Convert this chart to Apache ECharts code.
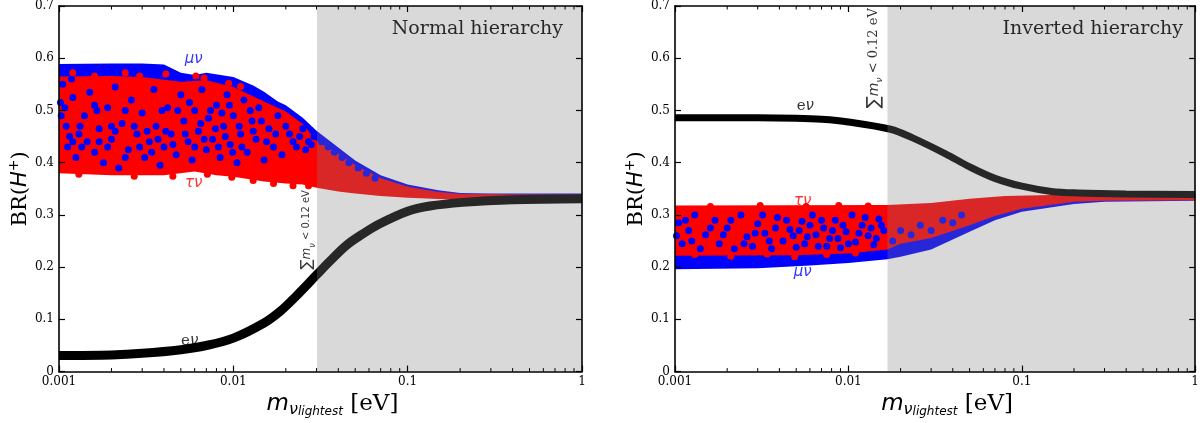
<!DOCTYPE html>
<html><head><meta charset="utf-8">
<script src="https://cdn.jsdelivr.net/npm/echarts/dist/echarts.min.js"></script>
<style>html,body{margin:0;padding:0;background:#fff}#c{width:1202px;height:423px}</style>
</head><body><div id="c"></div>
<script>
// ---------- data ----------
var xTickVals = [0.001, 0.01, 0.1, 1];
var minorTickVals = [0.002,0.003,0.004,0.005,0.006,0.007,0.008,0.009,0.02,0.03,0.04,0.05,0.06,0.07,0.08,0.09,0.2,0.3,0.4,0.5,0.6,0.7,0.8,0.9];
var nhLimit = 0.0302;   // sum m_nu < 0.12 eV boundary, normal hierarchy
var ihLimit = 0.0168;   // inverted hierarchy

// Normal hierarchy: e nu (black band)
var nhE = [[0.001,0.031],[0.002,0.032],[0.003,0.035],[0.005,0.042],[0.007,0.05],[0.01,0.064],[0.015,0.093],[0.0185,0.115],[0.023,0.145],[0.03,0.185],[0.0357,0.211],[0.0446,0.242],[0.0555,0.264],[0.0692,0.283],[0.1,0.307],[0.134,0.317],[0.207,0.324],[0.4,0.329],[1,0.331]];
// Normal hierarchy: envelopes of the mu nu and tau nu scatter clouds
var nhMuUpper = [[0.001,0.589],[0.002,0.59],[0.003,0.59],[0.004,0.588],[0.005,0.572],[0.006,0.568],[0.007,0.572],[0.01,0.564],[0.013,0.548],[0.015,0.536],[0.018,0.517],[0.02,0.51],[0.025,0.486],[0.03,0.461],[0.04,0.429],[0.05,0.404],[0.07,0.376],[0.1,0.358],[0.15,0.347],[0.2,0.342],[0.3,0.341],[0.5,0.341],[1,0.341]];
var nhMuLower = [[0.001,0.39],[0.005,0.39],[0.01,0.385],[0.02,0.37],[0.03,0.36],[0.05,0.345],[0.1,0.335],[0.2,0.329],[1,0.328]];
var nhTauUpper = [[0.001,0.565],[0.002,0.566],[0.003,0.564],[0.005,0.555],[0.007,0.558],[0.01,0.545],[0.015,0.517],[0.02,0.498],[0.025,0.474],[0.03,0.442],[0.04,0.417],[0.05,0.395],[0.07,0.37],[0.1,0.354],[0.15,0.344],[0.2,0.34],[0.5,0.339],[1,0.339]];
var nhTauLower = [[0.001,0.38],[0.002,0.376],[0.004,0.376],[0.006,0.383],[0.008,0.376],[0.01,0.373],[0.015,0.364],[0.02,0.36],[0.025,0.358],[0.03,0.352],[0.04,0.345],[0.05,0.341],[0.07,0.336],[0.1,0.333],[0.2,0.329],[1,0.328]];
// Normal hierarchy: individual mu nu points visible inside the tau nu cloud
var nhMuDots = [[0.00105,0.55],[0.00108,0.505],[0.0011,0.47],[0.00112,0.43],[0.0012,0.525],[0.00125,0.41],[0.0013,0.455],[0.0014,0.49],[0.00145,0.44],[0.0015,0.535],[0.0016,0.42],[0.0017,0.465],[0.0018,0.4],[0.0019,0.505],[0.002,0.445],[0.0021,0.545],[0.0022,0.39],[0.0023,0.475],[0.0025,0.425],[0.0026,0.52],[0.0028,0.455],[0.003,0.495],[0.0031,0.41],[0.0033,0.44],[0.0035,0.54],[0.0036,0.47],[0.0038,0.395],[0.004,0.43],[0.0042,0.505],[0.0044,0.455],[0.0047,0.415],[0.005,0.53],[0.0052,0.48],[0.0055,0.44],[0.0058,0.405],[0.006,0.5],[0.0063,0.46],[0.0066,0.54],[0.007,0.425],[0.0072,0.485],[0.0076,0.445],[0.008,0.51],[0.0084,0.41],[0.0088,0.47],[0.0092,0.53],[0.0096,0.435],[0.01,0.49],[0.0105,0.4],[0.011,0.455],[0.0115,0.52],[0.012,0.42],[0.0128,0.48],[0.0135,0.445],[0.014,0.505],[0.015,0.405],[0.016,0.465],[0.017,0.43],[0.018,0.49],[0.019,0.415],[0.021,0.455],[0.023,0.43],[0.025,0.465],[0.027,0.44],[0.029,0.45],[0.032,0.44],[0.035,0.43],[0.038,0.42],[0.042,0.41],[0.046,0.4],[0.052,0.39],[0.058,0.38],[0.065,0.37],
  [0.00102,0.515],[0.00103,0.49],[0.00115,0.45],[0.0012,0.44],[0.00118,0.56],[0.00132,0.47],[0.00135,0.43],[0.0016,0.51],[0.00165,0.5],[0.0017,0.44],[0.0019,0.43],[0.002,0.47],[0.0021,0.46],[0.0024,0.41],[0.0024,0.5],[0.0027,0.47],[0.0029,0.43],[0.0032,0.46],[0.0034,0.42],[0.0037,0.445],[0.0039,0.5],[0.0041,0.46],[0.0045,0.435],[0.0048,0.5],[0.0053,0.455],[0.0056,0.515],[0.006,0.43],[0.0065,0.475],[0.0068,0.445],[0.0074,0.5],[0.0079,0.465],[0.0082,0.43],[0.0086,0.495],[0.009,0.45],[0.0095,0.51],[0.0099,0.42],[0.0108,0.47],[0.0112,0.43],[0.0125,0.5],[0.013,0.46],[0.0145,0.48],[0.0155,0.44],[0.0175,0.455],[0.02,0.47],[0.022,0.44],[0.024,0.45],[0.026,0.425],[0.028,0.435]];
var nhTauDots = [[0.0012,0.572],[0.0016,0.566],[0.0024,0.572],[0.0029,0.566],[0.0041,0.57],[0.0061,0.566],[0.0068,0.562],[0.0094,0.552],[0.011,0.546],[0.0013,0.378],[0.0027,0.374],[0.0045,0.374],[0.0071,0.378],[0.0098,0.372],[0.013,0.366],[0.017,0.36],[0.022,0.356],[0.027,0.356]];

// Inverted hierarchy
var ihE = [[0.001,0.486],[0.003,0.486],[0.005,0.485],[0.007,0.483],[0.01,0.478],[0.0175,0.464],[0.0233,0.448],[0.0363,0.417],[0.05,0.392],[0.07,0.37],[0.1,0.355],[0.148,0.345],[0.21,0.342],[0.4,0.34],[1,0.339]];
var ihMuUpper = [[0.001,0.31],[0.0168,0.31],[0.03,0.318],[0.05,0.325],[0.1,0.333],[0.2,0.336],[1,0.338]];
var ihMuLower = [[0.001,0.196],[0.003,0.198],[0.006,0.203],[0.01,0.208],[0.0168,0.215],[0.02,0.22],[0.03,0.234],[0.05,0.268],[0.07,0.29],[0.1,0.306],[0.2,0.321],[0.3,0.325],[1,0.327]];
var ihTauUpper = [[0.001,0.318],[0.0168,0.319],[0.03,0.323],[0.05,0.331],[0.08,0.336],[0.2,0.339],[1,0.339]];
var ihTauLower = [[0.001,0.222],[0.005,0.223],[0.01,0.226],[0.0168,0.234],[0.02,0.245],[0.03,0.256],[0.05,0.28],[0.07,0.298],[0.1,0.312],[0.2,0.325],[0.3,0.327],[1,0.328]];
var ihMuDots = [[0.00105,0.285],[0.0011,0.245],[0.0012,0.27],[0.0013,0.3],[0.0014,0.235],[0.0015,0.262],[0.0017,0.29],[0.0018,0.245],[0.002,0.275],[0.0022,0.235],[0.0024,0.3],[0.0026,0.258],[0.0028,0.24],[0.003,0.283],[0.0033,0.265],[0.0036,0.235],[0.0039,0.295],[0.0042,0.25],[0.0046,0.272],[0.005,0.238],[0.0054,0.288],[0.0058,0.258],[0.0062,0.3],[0.0067,0.24],[0.0072,0.275],[0.0078,0.255],[0.0084,0.29],[0.009,0.237],[0.0097,0.268],[0.0105,0.3],[0.011,0.248],[0.012,0.28],[0.013,0.26],[0.014,0.243],[0.015,0.292],[0.016,0.27],[0.018,0.25],[0.02,0.27],[0.023,0.262],[0.026,0.28],[0.03,0.27],[0.035,0.29],[0.04,0.285],[0.045,0.3],
  [0.00102,0.26],[0.00115,0.29],[0.00125,0.25],[0.0016,0.275],[0.0019,0.262],[0.0021,0.29],[0.0025,0.245],[0.0029,0.265],[0.0032,0.3],[0.0035,0.25],[0.0038,0.275],[0.0044,0.29],[0.0048,0.26],[0.0052,0.27],[0.0056,0.245],[0.006,0.28],[0.0065,0.262],[0.007,0.29],[0.0075,0.24],[0.0081,0.27],[0.0087,0.255],[0.0093,0.28],[0.01,0.245],[0.0115,0.265],[0.0125,0.295],[0.0135,0.275],[0.0145,0.255],[0.0155,0.28]];
var ihTauDots = [[0.0013,0.224],[0.0021,0.221],[0.0034,0.225],[0.0049,0.22],[0.0075,0.224],[0.011,0.227],[0.0016,0.316],[0.0031,0.318],[0.0057,0.316],[0.0088,0.318],[0.013,0.317]];

// text annotations: [x, y]
var nhLabelPos = {mu:[0.00593,0.599], tau:[0.00593,0.36], e:[0.00562,0.058], limit:[0.0264,0.2715]};
var ihLabelPos = {mu:[0.00545,0.191], tau:[0.00545,0.326], e:[0.00564,0.509], limit:[0.01406,0.60]};
var panelTitles = ['Normal hierarchy', 'Inverted hierarchy'];

// ---------- chart ----------
var SERIF = 'DejaVu Serif', SANS = 'DejaVu Sans';
var BLUE = '#0000ff', RED = '#ff0000';
var chart = echarts.init(document.getElementById('c'), null, {renderer:'canvas'});

function fmtX(v){ return String(Number(v.toPrecision(3))); }
function xAx(gi, pos){
  return {type:'log', logBase:10, gridIndex:gi, position:pos, min:0.001, max:1, z:20,
    axisLine:{show:true, onZero:false, lineStyle:{color:'#000', width:1.6}},
    axisTick:{show:true, inside:true, length:6, lineStyle:{color:'#000', width:1.2}},
    axisLabel:{show:pos==='bottom', margin:4, fontFamily:SERIF, fontSize:12, color:'#000', formatter:fmtX},
    splitLine:{show:false},
    name: pos==='bottom' ? '{m|m}{s|ν}{ss|lightest}{u| [eV]}' : '',
    nameLocation:'middle', nameGap:16,
    nameTextStyle:{padding:[0,0,0,24], rich:{
      m:{fontFamily:SANS, fontStyle:'italic', fontSize:23, lineHeight:26, verticalAlign:'middle', color:'#000'},
      s:{fontFamily:SANS, fontStyle:'italic', fontSize:16, lineHeight:15, verticalAlign:'bottom', color:'#000'},
      ss:{fontFamily:SANS, fontStyle:'italic', fontSize:12, lineHeight:10, verticalAlign:'bottom', color:'#000'},
      u:{fontFamily:SERIF, fontSize:23, lineHeight:28, verticalAlign:'middle', color:'#000'}}}
  };
}
function yAx(gi, pos){
  return {type:'value', gridIndex:gi, position:pos, min:0, max:0.7, interval:0.1, z:20,
    axisLine:{show:true, onZero:false, lineStyle:{color:'#000', width:1.6}},
    axisTick:{show:true, inside:true, length:6, lineStyle:{color:'#000', width:1.2}},
    axisLabel:{show:pos==='left', margin:5, fontFamily:SERIF, fontSize:12, color:'#000'},
    splitLine:{show:false},
    name: pos==='left' ? '{r|BR(}{i|H}{p|+}{r|)}' : '',
    nameLocation:'middle', nameGap:25, nameRotate:90,
    nameTextStyle:{rich:{
      r:{fontFamily:SERIF, fontSize:21, lineHeight:26, verticalAlign:'middle', color:'#000'},
      i:{fontFamily:SANS, fontStyle:'italic', fontSize:21, lineHeight:26, verticalAlign:'middle', color:'#000'},
      p:{fontFamily:SANS, fontSize:14, lineHeight:13, verticalAlign:'top', color:'#000'}}}
  };
}

function band(upper, lower, color, xi, yi){
  return {type:'custom', xAxisIndex:xi, yAxisIndex:yi, z:2, silent:true, data:[upper[0]],
    renderItem:function(params, api){
      var pts = upper.map(function(p){return api.coord(p);})
        .concat(lower.slice().reverse().map(function(p){return api.coord(p);}));
      return {type:'polygon', shape:{points:pts}, style:{fill:color}};
    }};
}
function dots(data, color, xi, yi){
  return {type:'scatter', xAxisIndex:xi, yAxisIndex:yi, z:3, silent:true, symbolSize:7, data:data,
    itemStyle:{color:color, opacity:1}};
}
function curve(data, xi, yi, w){
  return {type:'line', xAxisIndex:xi, yAxisIndex:yi, z:2, silent:true, data:data, smooth:0.35, symbol:'none',
    lineStyle:{color:'#000', width:w}};
}
function shade(limit, xi, yi){
  return {type:'custom', xAxisIndex:xi, yAxisIndex:yi, z:10, silent:true, data:[[limit, 0]],
    renderItem:function(params, api){
      var a = api.coord([api.value(0), 0.7]), b = api.coord([1, 0]);
      return {type:'rect', shape:{x:a[0], y:a[1], width:b[0]-a[0], height:b[1]-a[1]},
        style:{fill:'rgba(128,128,128,0.3)'}};
    }};
}
function minorTicks(xiB, xiT, yi){
  return {type:'custom', xAxisIndex:xiB, yAxisIndex:yi, z:25, silent:true,
    data:minorTickVals.map(function(v){return [v, 0];}),
    renderItem:function(params, api){
      var b = api.coord([api.value(0), 0]), t = api.coord([api.value(0), 0.7]);
      return {type:'group', children:[
        {type:'line', shape:{x1:b[0], y1:b[1], x2:b[0], y2:b[1]-3.5}, style:{stroke:'#000', lineWidth:1}},
        {type:'line', shape:{x1:t[0], y1:t[1], x2:t[0], y2:t[1]+3.5}, style:{stroke:'#000', lineWidth:1}}]};
    }};
}
var labRich = {
  mu:{fontFamily:SANS, fontStyle:'italic', fontSize:15, color:BLUE},
  tau:{fontFamily:SANS, fontStyle:'italic', fontSize:15, color:RED},
  e:{fontFamily:SERIF, fontSize:15, color:'#000'},
  nu:{fontFamily:SANS, fontStyle:'italic', fontSize:15, color:'#000'}
};
function labels(pos, xi, yi, big){
  var sumRich = {
    S:{fontFamily:SANS, fontSize: big?18:15, lineHeight:20, verticalAlign:'middle', color:'#000'},
    m:{fontFamily:SANS, fontStyle:'italic', fontSize: big?14:12, lineHeight:16, verticalAlign:'middle', color:'#000'},
    n:{fontFamily:SANS, fontStyle:'italic', fontSize: big?9:8, lineHeight:8, verticalAlign:'bottom', color:'#000'},
    t:{fontFamily: big?SERIF:SANS, fontSize: big?13:10, lineHeight:16, verticalAlign:'middle', color:'#000'}
  };
  return {type:'scatter', xAxisIndex:xi, yAxisIndex:yi, z:30, silent:true, symbolSize:1,
    itemStyle:{color:'rgba(0,0,0,0)'},
    label:{show:true, position:'inside', rich:labRich},
    data:[
      {value:pos.mu, label:{formatter:'{mu|μν}'}},
      {value:pos.tau, label:{formatter:'{tau|τν}'}},
      {value:pos.e, label:{formatter:'{e|e}{nu|ν}'}},
      {value:pos.limit, label:{formatter:'{S|∑}{m|m}{n|ν}{t| < 0.12 eV}', rotate:90, rich:sumRich}}
    ]};
}

var option = {
  animation:false,
  backgroundColor:'#fff',
  title:[
    {text:panelTitles[0], right:634, top:15, textStyle:{fontFamily:SERIF, fontWeight:'normal', fontSize:19, color:'#000'}},
    {text:panelTitles[1], right:14, top:15, textStyle:{fontFamily:SERIF, fontWeight:'normal', fontSize:19, color:'#000'}}
  ],
  grid:[
    {left:59, top:2, width:523, height:374},
    {left:675, top:2, width:522, height:374}
  ],
  xAxis:[xAx(0,'bottom'), xAx(0,'top'), xAx(1,'bottom'), xAx(1,'top')],
  yAxis:[yAx(0,'left'), yAx(0,'right'), yAx(1,'left'), yAx(1,'right')],
  series:[
    curve(nhE, 0, 0, 9),
    band(nhMuUpper, nhMuLower, BLUE, 0, 0),
    band(nhTauUpper, nhTauLower, RED, 0, 0),
    dots(nhMuDots, BLUE, 0, 0),
    dots(nhTauDots, RED, 0, 0),
    shade(nhLimit, 0, 0),
    minorTicks(0, 1, 0),
    labels(nhLabelPos, 0, 0, false),

    curve(ihE, 2, 2, 7),
    band(ihMuUpper, ihMuLower, BLUE, 2, 2),
    band(ihTauUpper, ihTauLower, RED, 2, 2),
    dots(ihMuDots, BLUE, 2, 2),
    dots(ihTauDots, RED, 2, 2),
    shade(ihLimit, 2, 2),
    minorTicks(2, 3, 2),
    labels(ihLabelPos, 2, 2, true)
  ]
};
chart.setOption(option);
</script></body></html>
